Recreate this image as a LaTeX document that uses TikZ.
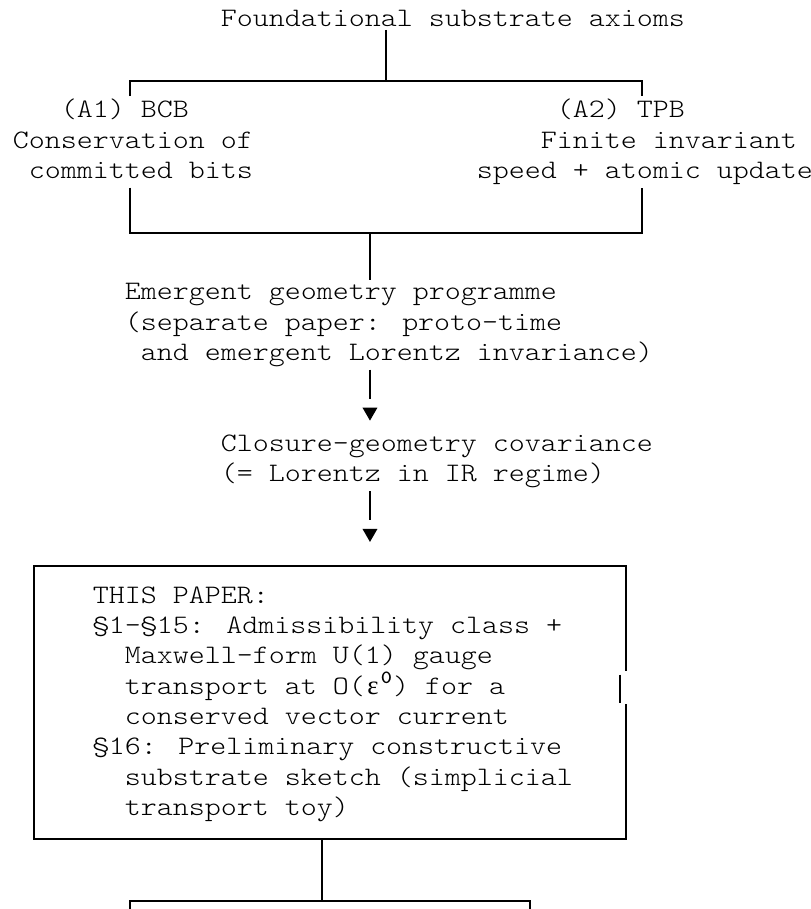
\documentclass[tikz,border=0pt]{standalone}
\usepackage{fontspec}
\usepackage{tikz}
\usetikzlibrary{shapes.geometric}
\newfontfamily\asciifont{lmmonolt10-regular.otf}[FakeStretch=1.1429, BoldFont=lmmonolt10-bold.otf]
\newfontfamily\greekfont{Liberation Serif}
\newcommand\cellspace{\fontdimen2\font=8pt\relax\fontdimen3\font=0pt\relax\fontdimen4\font=0pt\relax}

\begin{document}
\begin{tikzpicture}[
  x=8pt, y=-15.1667pt,
  txt/.style={anchor=base west, inner sep=0pt, outer sep=1.5pt, align=left,
              font=\asciifont\fontsize{13.33pt}{15.1667pt}\selectfont\cellspace},
  link/.style={line width=0.9pt},
  frame/.style={line width=1pt},
  tip/.style={regular polygon, regular polygon sides=3, shape border rotate=180,
              fill, inner sep=0pt, minimum size=8.66pt}
]
\clip (-1.125,-0.669) rectangle (49.5625,29.3);

% text blocks sit on the baseline of their last line
\node[txt] (top) at (12.5,0.214) {Foundational substrate axioms};
\node[txt] (bcb) at (-0.5,5.214) {\ \ \ (A1) BCB\\Conservation of\\\ committed bits};
\node[txt] (tpb) at (28.5,5.214) {\ \ \ \ \ (A2) TPB\\\ \ \ \ Finite invariant\\speed + atomic update};
\node[txt] (emg) at (6.5,11.214) {Emergent geometry programme\\(separate paper: proto-time\\\ and emergent Lorentz invariance)};
\node[txt] (cgc) at (12.5,15.214) {Closure-geometry covariance\\(= Lorentz in IR regime)};
\node[txt] (paper) at (4.5,26.214) {THIS PAPER:\\§1–§15: Admissibility class +\\\ \ Maxwell-form U(1) gauge\\\ \ transport at O(\makebox[8pt]{\greekfont ε}\textsuperscript{\bfseries 0}) for a\\\ \ conserved vector current\\§16: Preliminary constructive\\\ \ substrate sketch (simplicial\\\ \ transport toy)};

\node[tip] (tip1) at (22,12.912) {};
\node[tip] (tip2) at (22,16.912) {};
\node[draw, frame, minimum width=200pt, minimum height=40pt, anchor=north] (next) at (19.5,29) {};

\coordinate (fork) at (23,2);
\coordinate (lft) at (7,2);
\coordinate (rgt) at (39,2);
\coordinate (join) at (22,7);
\coordinate (out) at (19,27);

\draw[link] (top.south -| fork) -- (fork);
\draw[frame] (bcb.north -| lft) |- (fork) -| (tpb.north -| rgt);
\draw[frame] (lft |- tpb.south) |- (join) -| (tpb.south -| rgt);
\draw[link] (join) -- (emg.north -| join);
\draw[link, shorten >=4.1pt] (emg.south -| join) -- (tip1.north);
\draw[link, shorten >=4.1pt] (cgc.south -| join) -- (tip2.north);

\draw[frame] (38,21.45) |- (1,18) |- (out) -| (38,22.55);
\draw[frame] (37.625,21.57) -- (37.625,22.5);
\draw[link] (out) -- (next.north -| out);
\end{tikzpicture}
\end{document}
